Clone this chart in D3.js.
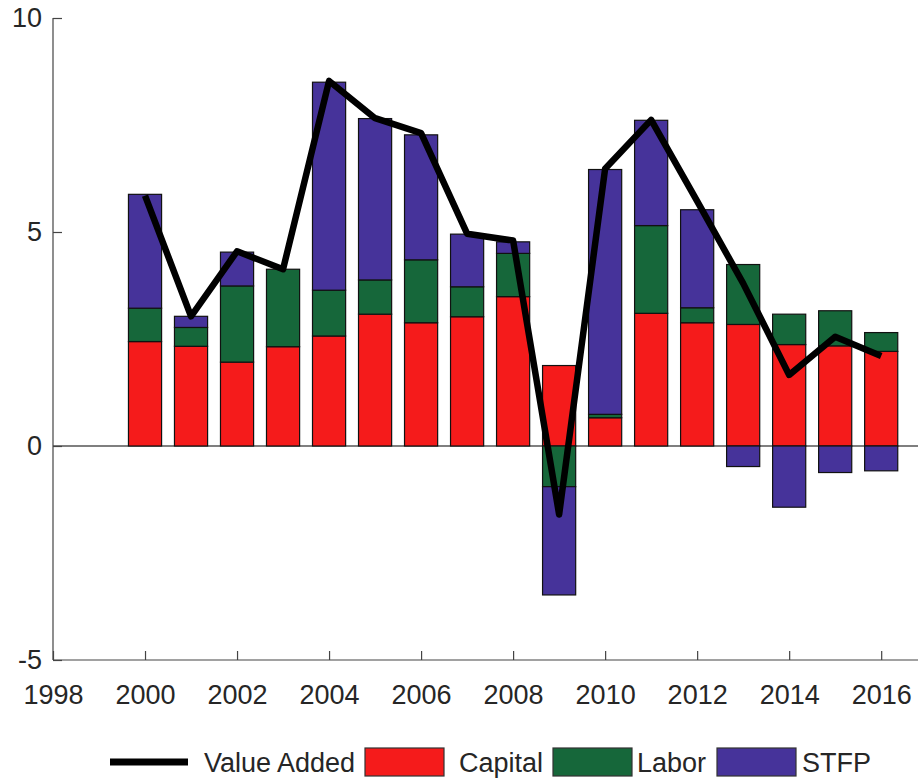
<!DOCTYPE html>
<html>
<head>
<meta charset="utf-8">
<script src="https://cdn.jsdelivr.net/npm/d3@7"></script>
<style>
  body { margin: 0; background: #fff; }
  text { font-family: "Liberation Sans", Arial, sans-serif; fill: #262626; }
  .axis path, .axis line { stroke: #444; stroke-width: 1.2; }
  .axis text { font-size: 27px; }
</style>
</head>
<body>
<div id="chart"></div>
<script>
// data
const years = [2000, 2001, 2002, 2003, 2004, 2005, 2006, 2007, 2008, 2009, 2010, 2011, 2012, 2013, 2014, 2015, 2016];
const capital = [2.44, 2.33, 1.96, 2.32, 2.57, 3.08, 2.88, 3.02, 3.49, 1.88, 0.66, 3.10, 2.88, 2.84, 2.37, 2.34, 2.21];
const labor = [0.78, 0.44, 1.78, 1.81, 1.07, 0.80, 1.47, 0.70, 1.01, -0.95, 0.08, 2.05, 0.35, 1.40, 0.71, 0.82, 0.44];
const stfp = [2.66, 0.26, 0.79, 0.00, 4.86, 3.77, 2.92, 1.23, 0.27, -2.53, 5.72, 2.46, 2.29, -0.48, -1.43, -0.62, -0.58];
const valueAdded = [5.85, 3.03, 4.55, 4.13, 8.53, 7.66, 7.31, 4.96, 4.80, -1.60, 6.48, 7.62, 5.72, 3.80, 1.66, 2.55, 2.10];
const xTicks = [1998, 2000, 2002, 2004, 2006, 2008, 2010, 2012, 2014, 2016];
const yTicks = [-5, 0, 5, 10];
const seriesNames = ["Capital", "Labor", "STFP"];

const width = 919;
const height = 781;
const colors = { Capital: "#f51b1b", Labor: "#16673a", STFP: "#46339a" };

const rows = years.map((yr, i) => ({ year: yr, Capital: capital[i], Labor: labor[i], STFP: stfp[i] }));

const x = d3.scaleLinear().domain([1998, 2016.8]).range([53, 918]);
const y = d3.scaleLinear().domain([-5, 10]).range([660, 18]);
const barW = x(2000.72) - x(2000);

const stacked = d3.stack()
  .keys(seriesNames)
  .offset(d3.stackOffsetDiverging)(rows);

const svg = d3.select("#chart").append("svg")
  .attr("width", width)
  .attr("height", height);

//------------------------------------------------ zero line
svg.append("line")
  .attr("x1", x(1998)).attr("x2", x(2016.8))
  .attr("y1", y(0)).attr("y2", y(0))
  .attr("stroke", "#555")
  .attr("stroke-width", 1.5);

//------------------------------------------------ bars
svg.selectAll("g.series")
  .data(stacked)
  .enter().append("g")
  .attr("class", "series")
  .attr("fill", d => colors[d.key])
  .selectAll("rect")
  .data(d => d)
  .enter().append("rect")
  .attr("x", d => x(d.data.year) - barW / 2)
  .attr("width", barW)
  .attr("y", d => y(Math.max(d[0], d[1])))
  .attr("height", d => Math.abs(y(d[0]) - y(d[1])))
  .attr("stroke", "#111")
  .attr("stroke-width", 1.2);

//------------------------------------------------ value added line
const line = d3.line()
  .x((d, i) => x(years[i]))
  .y(d => y(d));

svg.append("path")
  .datum(valueAdded)
  .attr("d", line)
  .attr("fill", "none")
  .attr("stroke", "#000")
  .attr("stroke-width", 6.5)
  .attr("stroke-linejoin", "round");

//------------------------------------------------ axes
svg.append("g")
  .attr("class", "axis y")
  .attr("transform", "translate(" + x(1998) + ",0)")
  .call(d3.axisLeft(y).tickValues(yTicks).tickFormat(d => String(d)).tickSize(-9).tickSizeOuter(0).tickPadding(11))
  .call(g => g.select(".domain").attr("d", "M0," + y(10) + "V" + y(-5)));

svg.append("g")
  .attr("class", "axis x")
  .attr("transform", "translate(0," + y(-5) + ")")
  .call(d3.axisBottom(x).tickValues(xTicks).tickFormat(d => String(d)).tickSize(-9).tickSizeOuter(0).tickPadding(25))
  .call(g => g.select(".domain").attr("d", "M" + x(1998) + ",0H" + x(2016.8)));

svg.selectAll(".axis text").attr("fill", "#262626");

//------------------------------------------------ legend
const legend = svg.append("g").attr("class", "legend");
legend.append("line")
  .attr("x1", 110).attr("x2", 188)
  .attr("y1", 762).attr("y2", 762)
  .attr("stroke", "#000")
  .attr("stroke-width", 7);
legend.append("text")
  .attr("x", 204).attr("y", 772)
  .attr("font-size", 27)
  .text("Value Added");

const boxX = [365, 553, 717];
const labelX = [459, 637, 802];
seriesNames.forEach((name, i) => {
  legend.append("rect")
    .attr("x", boxX[i]).attr("y", 748)
    .attr("width", 79).attr("height", 28)
    .attr("fill", colors[name])
    .attr("stroke", "#333")
    .attr("stroke-width", 1.2);
  legend.append("text")
    .attr("x", labelX[i]).attr("y", 772)
    .attr("font-size", 27)
    .text(name);
});
</script>
</body>
</html>
